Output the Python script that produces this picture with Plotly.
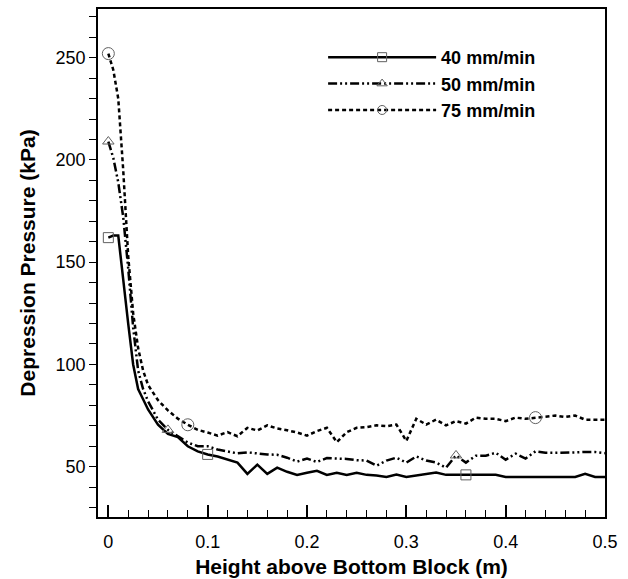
import plotly.graph_objects as go

height_m = [0, 0.005, 0.01, 0.015, 0.02, 0.025, 0.03, 0.035, 0.04, 0.05,
            0.06, 0.07, 0.08, 0.09, 0.10, 0.11, 0.12, 0.13, 0.14, 0.15,
            0.16, 0.17, 0.18, 0.19, 0.20, 0.21, 0.22, 0.23, 0.24, 0.25,
            0.26, 0.27, 0.28, 0.29, 0.30, 0.31, 0.32, 0.33, 0.34, 0.35,
            0.36, 0.37, 0.38, 0.39, 0.40, 0.41, 0.42, 0.43, 0.44, 0.45,
            0.46, 0.47, 0.48, 0.49, 0.50]

p40 = [162, 163, 163, 143, 120, 100, 88, 83, 78, 70.5,
       66, 64.5, 60, 57.5, 56, 55, 53.5, 52, 46.5, 51,
       46.5, 49.5, 47.5, 46, 47, 48, 46, 47, 46, 47,
       46, 45.7, 45, 46.2, 45, 45.7, 46.2, 47.2, 46, 46,
       46, 46, 46, 46, 45, 45, 45, 45, 45, 45,
       45, 45, 46.5, 45, 45]

p50 = [209, 201, 189, 172, 147, 118, 97, 88, 82, 73,
       68, 64.7, 61.8, 60, 60, 58.4, 57.5, 56.5, 57, 56.4,
       56, 55.8, 54.4, 52.5, 54, 52.3, 54.2, 54, 53.8, 53.2,
       53, 50.5, 53, 54.4, 52, 55, 53, 52, 49.5, 55.5,
       52, 55.4, 55.4, 56.8, 53.4, 56.4, 54, 57.5, 56.8, 56.8,
       56.8, 57, 57.2, 57.2, 56.6]

p75 = [252, 244, 230, 195, 153, 125, 108, 97, 90, 82.5,
       77.5, 73.5, 70.5, 68, 66.7, 65.2, 66.9, 64.9, 69, 67.7,
       70.2, 68.7, 67.8, 66.7, 65.2, 67.4, 69, 62, 66.9, 69,
       69.3, 70.2, 69.8, 70.6, 62.6, 73.4, 70.6, 73, 70.2, 72.3,
       71.1, 74, 73.4, 73.4, 72.3, 74, 73.4, 74, 74.7, 75,
       74.3, 75, 73, 73, 73]

series_names = ["40 mm/min", "50 mm/min", "75 mm/min"]
marker_at = [[0, 0.10, 0.36], [0, 0.06, 0.35], [0, 0.08, 0.43]]

FONT = "Liberation Sans, Arial, sans-serif"
styles = [
    dict(dash="solid", symbol="square-open", size=10),
    dict(dash="9px,3px,2px,3px,2px,3px", symbol="triangle-up-open", size=10),
    dict(dash="4px,3px", symbol="circle-open", size=12),
]
MARK_COLOR = "#606060"

fig = go.Figure()
for name, ys, marks, st in zip(series_names, [p40, p50, p75], marker_at, styles):
    fig.add_trace(go.Scatter(
        x=height_m, y=ys, mode="lines", showlegend=False,
        line=dict(color="black", width=2.5, dash=st["dash"]),
    ))
    mx = [x for x in height_m if any(abs(x - m) < 1e-9 for m in marks)]
    my = [y for x, y in zip(height_m, ys) if any(abs(x - m) < 1e-9 for m in marks)]
    fig.add_trace(go.Scatter(
        x=mx, y=my, mode="markers", showlegend=False,
        marker=dict(symbol=st["symbol"], size=st["size"], color=MARK_COLOR,
                    line=dict(width=1, color=MARK_COLOR)),
    ))
    fig.add_trace(go.Scatter(
        x=[None], y=[None], mode="lines+markers", name=name,
        line=dict(color="black", width=2.5, dash=st["dash"]),
        marker=dict(symbol=st["symbol"], size=9, color=MARK_COLOR,
                    line=dict(width=1, color=MARK_COLOR)),
    ))

fig.update_layout(
    width=628, height=579,
    margin=dict(l=98, r=23, t=9, b=62),
    paper_bgcolor="white", plot_bgcolor="white",
    font=dict(family=FONT, size=18, color="black"),
    legend=dict(x=0.444, y=0.941, xanchor="left", yanchor="top",
                bgcolor="rgba(0,0,0,0)", itemwidth=108,
                font=dict(family=FONT, size=18, weight="bold")),
    xaxis=dict(
        automargin=False,
        range=[-0.0104, 0.5], tickvals=[0, 0.1, 0.2, 0.3, 0.4, 0.5],
        ticktext=["0", "0.1", "0.2", "0.3", "0.4", "0.5"],
        ticks="inside", ticklen=12, tickwidth=1.5, tickcolor="black",
        minor=dict(dtick=0.02, tick0=0, ticks="inside", ticklen=7, tickwidth=1, tickcolor="black"),
        showline=True, linecolor="black", linewidth=1.5, mirror=True,
        showgrid=False, zeroline=False, ticklabelstandoff=8,
        tickfont=dict(size=18),
        title=dict(text="Height above Bottom Block (m)", standoff=8,
                   font=dict(size=21, weight="bold")),
    ),
    yaxis=dict(
        automargin=False,
        range=[25.4, 273.8], tickvals=[50, 100, 150, 200, 250],
        ticks="outside", ticklen=7, tickwidth=1, tickcolor="black",
        minor=dict(dtick=10, tick0=0, ticks="outside", ticklen=7, tickwidth=1, tickcolor="black"),
        showline=True, linecolor="black", linewidth=1.5, mirror=True,
        showgrid=False, zeroline=False,
        tickfont=dict(size=18),
        title=dict(text="Depression Pressure (kPa)", standoff=14,
                   font=dict(size=21, weight="bold")),
    ),
)

fig.write_html("out.html", config={"displayModeBar": False},
               post_script="document.body.style.margin='0';document.body.style.padding='0';")
